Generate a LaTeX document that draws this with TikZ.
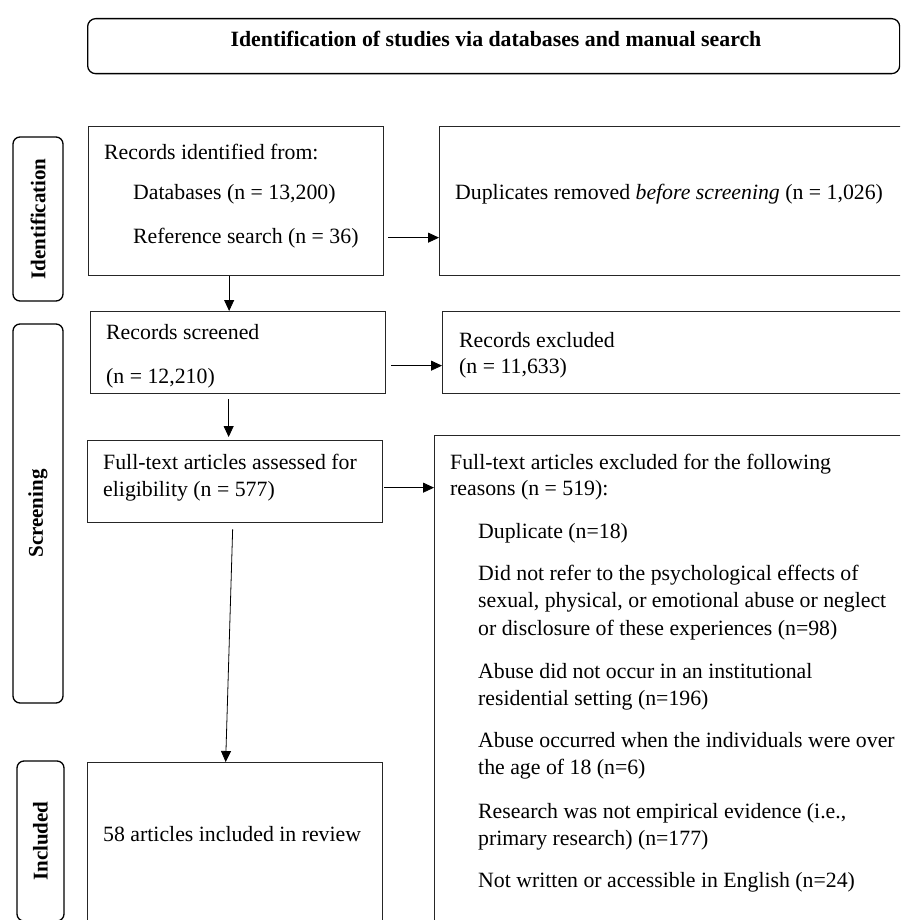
\documentclass[tikz,border=0pt]{standalone}
\usepackage{fontspec}
\setmainfont{Liberation Serif}
\usetikzlibrary{arrows.meta,calc,positioning}

\tikzset{
  box/.style={draw=black!85, line width=1.3pt, anchor=north west, inner sep=0pt},
  phase/.style={draw=black, line width=1.3pt, rounded corners=7pt, rotate=90, inner sep=0pt,
    font=\fontsize{21}{25}\selectfont\bfseries},
  txt/.style={anchor=base west, inner sep=0pt, font=\fontsize{21.8}{27}\selectfont},
  arr/.style={-{Triangle[length=11pt,width=10pt]}, line width=0.8pt},
}

\begin{document}
\begin{tikzpicture}[x=1pt,y=1pt,yscale=-1]
        \useasboundingbox (0,0) rectangle (900,920);
        \clip (0,0) rectangle (900,920);

        % header
        \node[box, draw=black, rounded corners=8pt, minimum width=812pt, minimum height=55pt] (head) at (87,18) {};
        \node[txt, anchor=base, font=\fontsize{21.8}{27}\selectfont\bfseries] (headtxt) at (496,47) {Identification of studies via databases and manual search};

        % phase labels
        \node[phase, minimum width=164pt, minimum height=50pt] (idlab) at (38,219) {Identification};
        \node[phase, minimum width=379pt, minimum height=50pt] (scrlab) at (38,513.5) {Screening};
        \node[phase, minimum width=160pt, minimum height=47pt] (inclab) at (40.5,841) {Included};

        % boxes
        \node[box, minimum width=295pt, minimum height=149pt] (recid) at (88,126) {};
        \node[box, minimum width=530pt, minimum height=149pt] (dup) at (439,126) {};
        \node[box, minimum width=295pt, minimum height=82pt] (scr) at (90,311) {};
        \node[box, minimum width=530pt, minimum height=82pt] (exc) at (442,311) {};
        \node[box, minimum width=295pt, minimum height=82pt] (full) at (87,440) {};
        \node[box, minimum width=530pt, minimum height=520pt] (fexc) at (434,435) {};
        \node[box, minimum width=295pt, minimum height=200pt] (incl) at (87,762) {};

        % Text Node
        \node[txt] (recid1) at (104,160) {Records identified from:};
        \node[txt] (recid2) at (133,200) {Databases (n = 13,200)};
        \node[txt] (ref) at (133,243) {Reference search (n = 36)};
        \node[txt] (duptxt) at (455,200) {Duplicates removed \textit{before screening} (n = 1,026)};
        \node[txt] (scr1) at (106,339) {Records screened};
        \node[txt] (scr2) at (106,383) {(n = 12,210)};
        \node[txt] (exc1) at (459,347) {Records excluded};
        \node[txt] (exc2) at (459,373) {(n = 11,633)};
        \node[txt] (full1) at (103,469) {Full-text articles assessed for};
        \node[txt] (full2) at (103,496) {eligibility (n = 577)};
        \node[txt] (fexc1) at (450,469) {Full-text articles excluded for the following};
        \node[txt] (fexc2) at (450,495) {reasons (n = 519):};
        \foreach \yy/\txt [count=\k] in {538/{Duplicate (n=18)},
            580/{Did not refer to the psychological effects of},
            607/{sexual, physical, or emotional abuse or neglect},
            635/{or disclosure of these experiences (n=98)},
            678/{Abuse did not occur in an institutional},
            705/{residential setting (n=196)},
            747/{Abuse occurred when the individuals were over},
            774/{the age of 18 (n=6)},
            818/{Research was not empirical evidence (i.e.,},
            845/{primary research) (n=177)},
            887/{Not written or accessible in English (n=24)}}
          \node[txt] (why\k) at (478,\yy) {\txt};
        \node[txt] (incltxt) at (103,841) {58 articles included in review};

        % arrows
        \draw[arr] ($(recid.east |- ref)+(4,0)$) -- (dup.west |- ref);
        \draw[arr] ($(recid.south)+(-7,0)$) -- ($(recid.south |- scr.north)+(-7,0)$);
        \draw[arr] ($(scr.east)+(5,13)$) -- ($(exc.west)+(0,13)$);
        \draw[arr] ($(scr.south)+(-9.5,5)$) -- ($(scr.south |- full.north)+(-9.5,-3)$);
        \coordinate (fa) at ($(full.east)+(1,6)$);
        \draw[arr] (fa) -- (fexc.west |- fa);
        \draw[arr] ($(full.south)+(-2.5,6)$) -- ($(incl.north)+(-9.5,0)$);
    \end{tikzpicture}
\end{document}
